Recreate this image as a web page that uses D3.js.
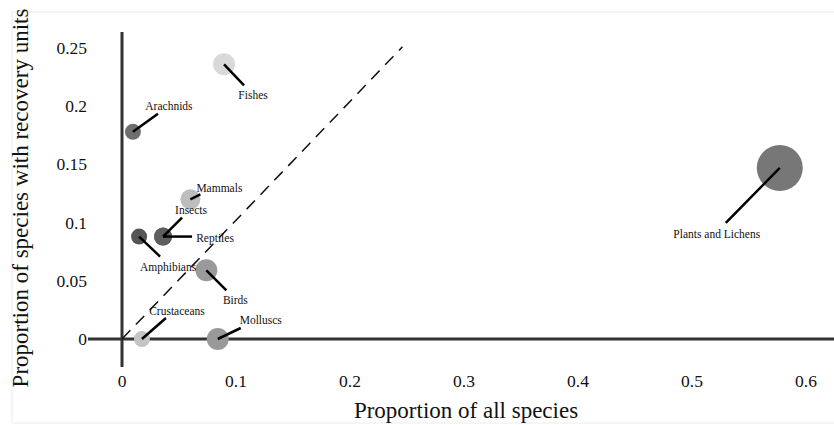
<!DOCTYPE html>
<html>
<head>
<meta charset="utf-8">
<script src="https://cdn.jsdelivr.net/npm/d3@7"></script>
<style>
  body { margin: 0; background: #fff; }
</style>
</head>
<body>
<svg id="chart" width="834" height="425"></svg>
<script>
// data
var groups = ['Fishes', 'Arachnids', 'Mammals', 'Insects', 'Reptiles', 'Amphibians', 'Birds', 'Crustaceans', 'Molluscs', 'Plants and Lichens'];
var shareAll = [0.0895, 0.0096, 0.060, 0.036, 0.036, 0.015, 0.074, 0.0175, 0.084, 0.577];
var shareRecovery = [0.236, 0.178, 0.120, 0.088, 0.088, 0.088, 0.059, 0, 0, 0.147];
var bubbleSize = [11, 8, 10, 9, 9, 8, 11, 8, 11, 23];
var shades = ['#d9d9d9', '#6e6e6e', '#bdbdbd', '#5e5e5e', '#5e5e5e', '#555555', '#9a9a9a', '#c4c4c4', '#999999', '#777777'];
var xTicks = [0, 0.1, 0.2, 0.3, 0.4, 0.5, 0.6];
var yTicks = [0, 0.05, 0.1, 0.15, 0.2, 0.25];

// callout layout: line end and label centre, relative to the bubble
var callouts = [
    { lx: 20, ly: 21, tx: 29, ty: 31 },
    { lx: 25, ly: -18, tx: 36, ty: -26 },
    { lx: 10, ly: -5, tx: 29, ty: -11 },
    { lx: 19, ly: -19, tx: 28, ty: -27 },
    { lx: 29, ly: 0, tx: 52, ty: 1 },
    { lx: 21, ly: 20, tx: 29, ty: 30 },
    { lx: 20, ly: 20, tx: 29, ty: 30 },
    { lx: 24, ly: -21, tx: 35, ty: -28 },
    { lx: 23, ly: -11, tx: 43, ty: -19 },
    { lx: -54, ly: 55, tx: -63, ty: 66 }
];

var serif = '"Liberation Serif", "DejaVu Serif", serif';

var points = groups.map(function(g, i) {
    return { name: g, x: shareAll[i], y: shareRecovery[i], r: bubbleSize[i], fill: shades[i], c: callouts[i] };
});

var svg = d3.select('#chart')
    .attr('font-family', serif);

var x = d3.scaleLinear().domain([0, 0.6]).range([122, 806]);
var y = d3.scaleLinear().domain([0, 0.25]).range([339, 48]);

// faint frame
svg.append('rect')
    .attr('x', 12).attr('y', 12)
    .attr('width', 830).attr('height', 411)
    .attr('fill', 'none')
    .attr('stroke', '#ececec').attr('stroke-width', 1);

// tick labels
svg.append('g').selectAll('text')
    .data(xTicks)
    .enter().append('text')
    .attr('x', function(d) { return x(d); })
    .attr('y', 387)
    .attr('text-anchor', 'middle')
    .attr('font-family', serif)
    .attr('font-size', 17.5)
    .attr('fill', '#111')
    .text(function(d) { return d3.format('')(d); });

svg.append('g').selectAll('text')
    .data(yTicks)
    .enter().append('text')
    .attr('x', 87)
    .attr('y', function(d) { return y(d) + 6; })
    .attr('text-anchor', 'end')
    .attr('font-family', serif)
    .attr('font-size', 17.5)
    .attr('fill', '#111')
    .text(function(d) { return d3.format('')(d); });

// axis titles
svg.append('text')
    .attr('x', 466)
    .attr('y', 418)
    .attr('text-anchor', 'middle')
    .attr('font-family', serif)
    .attr('font-size', 23)
    .attr('fill', '#111')
    .text('Proportion of all species');

svg.append('text')
    .attr('transform', 'translate(28,198) rotate(-90)')
    .attr('text-anchor', 'middle')
    .attr('font-family', serif)
    .attr('font-size', 23)
    .attr('fill', '#111')
    .text('Proportion of species with recovery units');

// axes through the origin
svg.append('line')
    .attr('x1', 88).attr('x2', 834)
    .attr('y1', y(0)).attr('y2', y(0))
    .attr('stroke', '#333').attr('stroke-width', 3);

svg.append('line')
    .attr('x1', x(0)).attr('x2', x(0))
    .attr('y1', 32).attr('y2', 367)
    .attr('stroke', '#333').attr('stroke-width', 3);

// y = x reference
svg.append('line')
    .attr('x1', x(0)).attr('y1', y(0))
    .attr('x2', x(0.246)).attr('y2', y(0.251))
    .attr('stroke', '#111').attr('stroke-width', 1.5)
    .attr('stroke-dasharray', '12,8');

// bubbles
svg.append('g').selectAll('circle')
    .data(points)
    .enter().append('circle')
    .attr('cx', function(d) { return x(d.x); })
    .attr('cy', function(d) { return y(d.y); })
    .attr('r', function(d) { return d.r; })
    .attr('fill', function(d) { return d.fill; });

// callout lines
svg.append('g').selectAll('line')
    .data(points)
    .enter().append('line')
    .attr('x1', function(d) { return x(d.x); })
    .attr('y1', function(d) { return y(d.y); })
    .attr('x2', function(d) { return x(d.x) + d.c.lx; })
    .attr('y2', function(d) { return y(d.y) + d.c.ly; })
    .attr('stroke', '#000').attr('stroke-width', 2.5);

// labels
svg.append('g').selectAll('text')
    .data(points)
    .enter().append('text')
    .attr('x', function(d) { return x(d.x) + d.c.tx; })
    .attr('y', function(d) { return y(d.y) + d.c.ty + 4; })
    .attr('text-anchor', 'middle')
    .attr('font-family', serif)
    .attr('font-size', 11.5)
    .attr('fill', '#111')
    .text(function(d) { return d.name; });
</script>
</body>
</html>
